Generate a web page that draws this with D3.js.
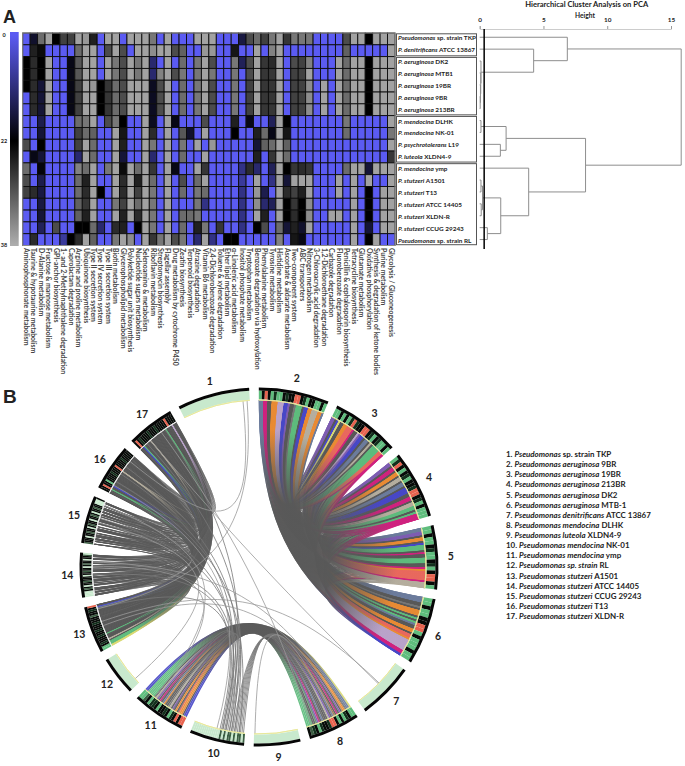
<!DOCTYPE html>
<html>
<head>
<meta charset="utf-8">
<style>
  body { margin: 0; background: white; }
  text { font-family: Lato, "Open Sans", sans-serif; fill: #222; }
</style>
<script src="https://d3js.org/d3.v7.min.js"></script>
</head>
<body>
<div id="chart"></div>
<script>
// ---- panel A data
var columnLabels = ["Aminophosphonate metabolism","Taurine & hypotaurine metabolism","D-Alanine metabolism","Fructose & mannose metabolism","GPI-anchor biosynthesis","1- and 2-Methylnaphthalene degradation","Caprolactam degradation","Arginine and proline metabolism","Ubiquinone biosynthesis","Type II secretion system","Type IV secretion system","Type III secretion system","Biotin metabolism","Glycerophospholipid metabolism","Polyketide sugar unit biosynthesis","Nucleotide sugars metabolism","Selenoamino & metabolism","Riboflavin metabolism","Streptomycin biosynthesis","Flagellar assembly","Drug metabolism by cytochrome P450","Zeatin biosynthesis","Terpenoid biosynthesis","Atrazine degradation","Vitamin B6 metabolism","2,4-Dichlorobenzoate degradation","Toluene & xylene degradation","Ether lipid metabolism","α-Linolenic acid metabolism","Inositol phosphate metabolism","Tryptophan metabolism","Benzoate degradation via hydroxylation","Phenylalanine metabolism","Tyrosine metabolism","Histidine metabolism","Ascorbate & aldarate metabolism","Two-component system","ABC transporters","Nitrogen metabolism","3-Chloroacrylic acid degradation","1,2-Dichloroethane degradation","Carbazole degradation","Fluorobenzoate degradation","Penicillin & cephalosporin biosynthesis","Tetracycline biosynthesis","Glutamate metabolism","Oxidative phosphorylation","Synthesis & degradation of ketone bodies","Purine metabolism","Glycolysis / Gluconeogenesis"];

var rowItalic = ["Pseudomonas","P. denitrificans","P. aeruginosa","P. aeruginosa","P. aeruginosa","P. aeruginosa","P. aeruginosa","P. mendocina","P. mendocina","P. psychrotolerans","P. luteola","P. mendocina","P. stutzeri","P. stutzeri","P. stutzeri","P. stutzeri","P. stutzeri","Pseudomonas"];
var rowPlain = ["sp. strain TKP","ATCC 13867","DK2","MTB1","19BR","9BR","213BR","DLHK","NK-01","L19","XLDN4-9","ymp","A1501","T13","ATCC 14405","XLDN-R","CCUG 29243","sp. strain RL"];

var heatValues = [
  [0,18,32,37,22,28,28,37,36,25, 0,37,37,0,37,37,37,33,0,37, 0,0,0,37,37,37,0,0,0,16, 29,32,28,33,37,27,33,33,33,0, 0,0,0,29,37,37,22,37,37,37],
  [0,25,23,0,0,0,0,32,37,37, 0,29,37,29,0,37,37,35,37,37, 29,31,0,0,36,36,0,0,24,0, 0,37,0,34,37,0,0,0,0,0, 0,0,0,31,0,0,0,0,0,37],
  [22,26,22,37,0,0,20,30,37,37, 0,37,33,29,37,33,37,12,0,37, 0,32,0,33,37,29,0,0,33,14, 29,37,27,26,37,0,29,28,34,0, 0,0,37,32,37,37,22,37,37,37],
  [22,26,22,37,0,0,20,30,37,37, 0,37,33,29,37,33,37,12,34,37, 29,33,0,33,37,33,0,0,33,0, 29,37,27,27,37,0,28,28,37,0, 0,0,37,32,37,37,22,37,37,37],
  [22,26,17,37,0,0,20,28,37,36, 22,27,32,29,37,37,37,19,29,37, 0,32,0,33,37,29,0,0,33,0, 28,37,27,27,37,0,28,28,35,0, 37,0,37,32,37,37,22,37,37,37],
  [0,26,17,37,0,0,20,28,37,37, 22,27,32,29,37,37,37,19,29,37, 0,32,0,33,37,29,0,0,33,0, 28,37,27,27,37,0,28,28,35,0, 37,0,37,32,37,37,22,37,37,37],
  [0,26,17,37,0,0,20,28,37,37, 22,27,32,29,37,37,37,19,29,37, 0,32,0,33,37,29,0,0,33,0, 28,37,27,27,37,0,28,28,35,0, 37,0,37,32,37,37,22,37,37,37],
  [0,0,15,0,0,0,0,32,33,37, 0,29,33,22,0,0,37,19,0,37, 20,0,0,0,29,0,0,0,25,0, 20,0,0,14,37,22,0,0,0,0, 0,0,0,33,0,0,0,0,0,37],
  [0,0,17,0,0,0,0,28,32,31, 0,0,37,24,0,0,37,26,0,37, 0,30,18,0,37,0,0,0,22,0, 0,25,32,20,37,24,0,0,0,0, 0,0,0,32,0,0,0,0,0,33],
  [29,0,22,0,0,0,0,28,37,32, 0,0,37,25,0,0,37,33,0,37, 0,33,0,37,0,36,0,0,0,0, 0,17,31,32,37,31,0,0,0,0, 0,0,0,0,0,0,0,0,0,37],
  [0,20,17,0,0,0,0,12,37,32, 0,0,37,17,0,0,37,12,0,37, 0,32,0,0,37,0,0,0,0,0, 0,25,0,27,37,32,0,0,0,0, 0,0,0,0,0,0,0,0,0,27],
  [32,0,21,0,0,0,0,34,32,37, 0,33,37,23,37,32,37,27,0,37, 20,0,0,37,27,0,0,0,0,10, 26,12,0,14,37,22,27,26,27,0, 0,0,0,32,37,37,17,37,37,37],
  [29,0,15,0,0,0,0,32,25,37, 0,0,37,26,37,25,37,32,0,37, 0,29,0,32,37,0,0,0,0,8, 0,37,0,10,37,17,37,37,37,0, 0,0,37,0,37,0,37,0,0,37],
  [28,26,16,0,0,0,0,32,26,37, 22,0,37,26,37,28,37,33,0,37, 0,32,0,33,32,0,0,0,0,10, 0,36,15,0,37,26,28,25,37,0, 0,0,37,0,37,0,22,0,37,37],
  [0,0,16,0,0,0,0,31,27,37, 0,0,33,28,37,32,37,33,0,37, 0,0,0,33,10,0,0,0,0,10, 0,35,12,14,37,22,27,22,35,0, 0,0,0,0,37,0,22,0,37,37],
  [0,0,17,0,0,0,0,31,25,37, 0,0,37,25,37,26,37,33,0,37, 0,32,32,33,0,0,0,0,0,10, 0,37,25,0,37,22,26,22,35,0, 0,37,37,0,37,0,22,0,37,37],
  [0,0,14,0,29,0,0,22,22,32, 12,0,26,25,0,22,37,33,0,37, 0,32,0,25,33,0,27,0,0,10, 0,22,29,0,32,17,25,18,37,0, 0,0,0,0,37,0,17,0,37,37],
  [0,26,0,0,0,8,22,26,37,31, 0,0,33,37,35,0,37,27,33,37, 29,33,0,12,37,10,0,22,22,0, 0,0,0,0,34,0,24,20,0,0, 0,0,0,0,37,0,22,37,0,0]
];

var scaleStops = [0, 22, 38];
var rowGroups = [[0,1],[2,6],[7,10],[11,17]];

// [height, left, right], plain numbers are rows of the heatmap
var clusterTree = [15.8,
  [6.87, 0, [4.23, 1, [0.1, 2, [0.08, 3, [0.06, 4, [0.04, 5, 6]]]]]],
  [8.3,
    [2.07, [0.1, 7, 8], [1.62, 9, 10]],
    [3.84, 11, [1.65, [0.22, [0.1, 12, 13], [0.12, 14, 15]], [0.6, 16, 17]]]]];
var heightTicks = [0, 5, 10, 15];
var cutHeight = 0.35;

// ---- panel B data
var legendItalic = ["Pseudomonas","Pseudomonas aeruginosa","Pseudomonas aeruginosa","Pseudomonas aeruginosa","Pseudomonas aeruginosa","Pseudomonas aeruginosa","Pseudomonas denitrificans","Pseudomonas mendocina","Pseudomonas luteola","Pseudomonas mendocina","Pseudomonas mendocina","Pseudomonas sp. strain","Pseudomonas stutzeri","Pseudomonas stutzeri","Pseudomonas stutzeri","Pseudomonas stutzeri","Pseudomonas stutzeri"];
var legendPlain = ["sp. strain TKP","9BR","19BR","213BR","DK2","MTB-1","ATCC 13867","DLHK","XLDN4-9","NK-01","ymp","RL","A1501","ATCC 14405","CCUG 29243","T13","XLDN-R"];

var sectorSpans = [23.4,22.8,22.2,22.1,20.8,21.7,18.3,16.8,15.1,17.8,17.2,12.6,15.2,14.5,15.5,15.2,15.6];

// blocks of the gene track per sector, clockwise
var trackBlocks = {
  1:"p", 2:"nkskndnnkdkksskdnkknnkn", 3:"nnknkndsdkksskdnkdnnkn", 4:"ndsknkdnkkdsskdnknnn", 5:"nnknnkdnnkdnksskn", 6:"nnknnkkssnknnnknn",
  7:"p", 8:"nnkdnknkssdkkdnkdxk", 9:"p", 10:"xpxxpxpxxpxpxpppppppppppppp", 11:"sskskdnkdkknkddnkxnn", 12:"p",
  13:"nnkdkkkdkkdkkkdkkkxkkdks", 14:"ppppkxkpkkxkkkpkkxkkpkxkkpkkxp", 15:"xkkkpkkxkkpkxkkpkkxkpkkxkkpppk",
  16:"kkskknkkkkdkkkskkkkdkkkkk", 17:"kskdkkkkdkkkdkkkkkskkkk"
};

// gene strips per sector, clockwise; same index = same gene family within a group
var ribbonGroups = [
  { flipped: [2], strips: {
    2:"iimmggooolllbbpgghnnngbbootttooi",
    3:"ppgbyggoosssmgglpbbgiigtgnnnnssm",
    4:"ppgmmgoogttgiigbbbggmmgttnngnmmm",
    5:"iippgoogbnnngmggnnnggmosssssmttt",
    6:"iiigghgooogngniggoogssollllllmmb" } },
  { flipped: [13], strips: {
    13:"yynnnnggtgggggngggggggggggggggggggggggggggggibgg",
    14:"ggwggwgggwwggwgwgggwggwggwwgggwgwggwgggwwggwgggw",
    15:"gwwgwggwgggwgwwgggwgwwggwgggwwgwggwggwgggwgwwggw",
    16:"ggggngggbggggggggggggggggggtgggggggggggggggggggg",
    17:"ggggbnggggggggtgggggggggggggggggggnggggggglggggg" } },
  { flipped: [11], strips: {
    8:"yiigoogpgmgoigptgggigmpnggnnnn",
    11:"bbgoosgogpgthggoigmgptgnnnnnbb" } }
];

// single thin links: sector, position, sector, position
var thinLinks = [
  [10,.03,8,.86],[10,.06,8,.78],[10,.09,8,.7],[10,.12,8,.62],[10,.15,8,.55],[10,.18,8,.46],[10,.21,8,.38],[10,.24,8,.3],
  [10,.27,11,.2],[10,.30,11,.3],[10,.11,16,.3],[10,.2,17,.2],[10,.26,16,.7],[10,.31,15,.6],[10,.34,17,.7],[10,.37,14,.8],[10,.40,15,.9],
  [10,.43,16,.5],[10,.46,13,.9],[10,.49,14,.5],[10,.38,11,.5],[10,.44,11,.6],
  [9,.98,8,.4],[1,.96,13,.9],[7,.5,17,.3],[7,.48,13,.6],[12,.15,15,.5],[13,.5,8,.2],[14,.8,8,.12],[17,.6,8,.9],[16,.2,10,.55],[11,.7,14,.7],[11,.75,15,.9],[1,.9,16,.85]
];

var colorCodes = ["g","h","m","o","l","b","p","n","t","s","y","i"];
var colorValues = ["#585858","#767676","#cf217e","#e88a33","#b9a2c9","#4747c6","#7d5cb2","#5dbb7c","#b4ad9d","#e8685d","#d9d972","#6b7b9c"];
var blockCodes = ["k","n","s","d","x","p"];
var blockValues = ["#070b08","#5fbd7d","#e8634f","#12301c","#3c5f43","#c8e9cd"];

// ---- page
var svg = d3.select("#chart").append("svg").attr("width", 685).attr("height", 766);
var rad = function(a) { return a * Math.PI / 180; };

svg.append("text").attr("x", 3).attr("y", 23).style("font", "bold 18px 'Liberation Sans'").text("A");
svg.append("text").attr("x", 3).attr("y", 403).style("font", "bold 19px 'Liberation Sans'").text("B");

// heatmap
var x = d3.scaleBand().domain(d3.range(columnLabels.length)).range([22.7, 395]);
var y = d3.scaleBand().domain(d3.range(rowPlain.length)).range([33, 245.5]);
var heatColor = d3.scaleLinear().domain(scaleStops).range(["#5b5bf2", "#000000", "#adadad"]);

var rowsG = svg.append("g");
rowsG.selectAll("g").data(heatValues).enter().append("g")
  .attr("transform", function(d, i) { return "translate(0," + y(i) + ")"; })
  .selectAll("rect").data(function(d) { return d; }).enter().append("rect")
    .attr("x", function(d, j) { return x(j); })
    .attr("width", x.bandwidth())
    .attr("height", y.bandwidth())
    .attr("fill", function(d) { return heatColor(d); })
    .attr("stroke", "#0c0c0c")
    .attr("stroke-width", 0.9);
svg.append("rect").attr("x", 22.7).attr("y", 33).attr("width", 372.3).attr("height", 212.5)
  .attr("fill", "none").attr("stroke", "#8a8a8a");

svg.append("g").selectAll("text").data(columnLabels).enter().append("text")
  .attr("transform", function(d, j) { return "translate(" + (x(j) + x.bandwidth() / 2) + ",248) rotate(90)"; })
  .attr("dy", "0.35em")
  .style("font-size", "6.9px").style("font-weight", 700).style("fill", "#444")
  .text(function(d) { return d; });

// colour key
var keyY = d3.scaleLinear().domain(scaleStops).range([35, 141, 245]);
var grad = svg.append("defs").append("linearGradient").attr("id", "keyGrad")
  .attr("gradientUnits", "userSpaceOnUse").attr("x1", 0).attr("x2", 0).attr("y1", 33).attr("y2", 246);
grad.selectAll("stop").data(scaleStops).enter().append("stop")
  .attr("offset", function(d) { return (keyY(d) - 33) / 213; })
  .attr("stop-color", function(d) { return heatColor(d); });
svg.append("rect").attr("x", 10).attr("y", 32).attr("width", 8.7).attr("height", 214).attr("fill", "url(#keyGrad)");
svg.append("g").selectAll("text").data(scaleStops).enter().append("text")
  .attr("x", 4).attr("y", function(d) { return keyY(d) + 2; })
  .attr("text-anchor", "middle")
  .style("font-size", "5.5px").style("font-weight", 700)
  .text(function(d) { return d; });

// row labels and their boxes
var labelY = d3.scaleBand().domain(d3.range(rowPlain.length)).range([32.3, 246.5]);
var rowText = svg.append("g").selectAll("text").data(rowPlain).enter().append("text")
  .attr("x", 398).attr("y", function(d, i) { return labelY(i) + labelY.bandwidth() / 2 + 2; })
  .style("font-size", "6.4px").style("font-weight", 700);
rowText.append("tspan").style("font-style", "italic").text(function(d, i) { return rowItalic[i]; });
rowText.append("tspan").text(function(d) { return " " + d; });

svg.append("g").selectAll("rect").data(rowGroups).enter().append("rect")
  .attr("x", 396.5).attr("width", 80)
  .attr("y", function(d) { return y(d[0]) + 0.8; })
  .attr("height", function(d) { return y(d[1]) + y.bandwidth() - y(d[0]) - 1.6; })
  .attr("fill", "none").attr("stroke", "#555");

// dendrogram
var heightX = d3.scaleLinear().domain([0, 15]).range([479.7, 671]);
var axisG = svg.append("g").attr("transform", "translate(0,29)")
  .call(d3.axisTop(heightX).tickValues(heightTicks).tickSize(3));
axisG.select(".domain").attr("stroke", "#ccc");
axisG.selectAll("line").attr("stroke", "#999");
axisG.selectAll("text").style("font-size", "6.4px").style("font-weight", 700).style("font-family", "Lato").attr("dy", "-0.1em");
svg.append("text").attr("x", 586.7).attr("y", 6.5).attr("text-anchor", "middle")
  .style("font-size", "7.6px").style("font-weight", 700).text("Hierarchical Cluster Analysis on PCA");
svg.append("text").attr("x", 585).attr("y", 17.5).attr("text-anchor", "middle")
  .style("font-size", "6.6px").style("font-weight", 700).text("Height");

var tree = d3.hierarchy(clusterTree, function(d) { return Array.isArray(d) ? d.slice(1) : null; });
tree.eachAfter(function(n) {
  if (n.children) {
    n.py = d3.mean(n.children, function(c) { return c.py; });
    n.px = heightX(n.data[0]);
  } else {
    n.py = labelY(n.data) + labelY.bandwidth() / 2 - 1;
    n.px = heightX(0);
  }
});
svg.append("g").selectAll("path")
  .data(tree.descendants().filter(function(n) { return n.children; }))
  .enter().append("path")
    .attr("fill", "none").attr("stroke", "#8e8e8e").attr("stroke-width", 1)
    .attr("d", function(n) {
      var a = n.children[0], b = n.children[1];
      return "M" + a.px + "," + a.py + "H" + n.px + "V" + b.py + "H" + b.px;
    });
svg.append("line").attr("x1", heightX(cutHeight)).attr("x2", heightX(cutHeight))
  .attr("y1", 29).attr("y2", 249).attr("stroke", "#000").attr("stroke-width", 1.5);

// ---- chord panel
var cx = 259, cy = 567;
var ribbonR = 167, trackR = 176.5, outerR = 179.5, controlR = 40;
var panel = svg.append("g").attr("transform", "translate(" + cx + "," + cy + ")");
var stripColor = d3.scaleOrdinal(colorCodes, colorValues);
var blockColor = d3.scaleOrdinal(blockCodes, blockValues);

var pad = rad(3.1);
var sectors = d3.pie().sort(null).value(function(d) { return d; })
  .startAngle(rad(-28.15)).endAngle(rad(331.85)).padAngle(pad)(sectorSpans)
  .map(function(s, i) {
    return { id: i + 1, startAngle: s.startAngle + pad / 2, endAngle: s.endAngle - pad / 2 };
  });
var sectorAt = function(id, t) {
  var s = sectors[id - 1];
  return d3.scaleLinear().domain([0, 1]).range([s.startAngle, s.endAngle])(t);
};
var pt = function(a, r) { return [r * Math.sin(a), -r * Math.cos(a)]; };

function ribbonPath(a0, a1, b0, b1) {
  var p = d3.path();
  var s = pt(a0, ribbonR);
  p.moveTo(s[0], s[1]);
  p.arc(0, 0, ribbonR, a0 - Math.PI / 2, a1 - Math.PI / 2);
  var c1 = pt(a1, controlR), c2 = pt(b0, controlR), e = pt(b0, ribbonR);
  p.bezierCurveTo(c1[0], c1[1], c2[0], c2[1], e[0], e[1]);
  p.arc(0, 0, ribbonR, b0 - Math.PI / 2, b1 - Math.PI / 2);
  c1 = pt(b1, controlR); c2 = pt(a0, controlR);
  p.bezierCurveTo(c1[0], c1[1], c2[0], c2[1], s[0], s[1]);
  p.closePath();
  return p.toString();
}

// build the ribbons of every group
var ribbons = [];
ribbonGroups.forEach(function(group, g) {
  var ids = Object.keys(group.strips).map(Number);
  var slot = function(id, k) {
    var str = group.strips[id], n = str.length;
    var idx = group.flipped.indexOf(id) >= 0 ? n - 1 - k : k;
    return { code: str[idx], a0: sectorAt(id, idx / n), a1: sectorAt(id, (idx + 1) / n) };
  };
  ids.forEach(function(ida, i) {
    ids.slice(i + 1).forEach(function(idb) {
      var n = Math.min(group.strips[ida].length, group.strips[idb].length);
      d3.range(n).forEach(function(k) {
        var sa = slot(ida, k), sb = slot(idb, k);
        if (sa.code === "w" || sb.code === "w") return;
        var tinted = (sa.code === "g" ? 0 : 1) + (sb.code === "g" ? 0 : 1);
        // the dense group mixes gene by gene, the others keep the colours on top
        ribbons.push({ a: sa, b: sb, group: g, rank: g === 0 ? k : tinted, tinted: tinted });
      });
    });
  });
});
ribbons.sort(function(p, q) { return p.group - q.group || p.rank - q.rank; });

var defs = svg.select("defs");
ribbons.forEach(function(r, i) {
  r.d = ribbonPath(r.a.a0, r.a.a1, r.b.a0, r.b.a1);
  if (!r.tinted) { r.fill = stripColor("g"); return; }
  var p0 = pt((r.a.a0 + r.a.a1) / 2, ribbonR), p1 = pt((r.b.a0 + r.b.a1) / 2, ribbonR);
  var g = defs.append("linearGradient").attr("id", "rb" + i).attr("gradientUnits", "userSpaceOnUse")
    .attr("x1", p0[0]).attr("y1", p0[1]).attr("x2", p1[0]).attr("y2", p1[1]);
  [[0, r.a.code], [0.24, r.a.code], [0.42, "g"], [0.58, "g"], [0.76, r.b.code], [1, r.b.code]].forEach(function(s) {
    g.append("stop").attr("offset", s[0]).attr("stop-color", stripColor(s[1]));
  });
  r.fill = "url(#rb" + i + ")";
});

panel.append("g").selectAll("path").data(ribbons).enter().append("path")
  .attr("d", function(r) { return r.d; })
  .attr("fill", function(r) { return r.fill; })
  .attr("fill-opacity", 0.92);

// the bundles close to the centre read as plain grey
var hubFade = [
  [[60, 0.95], [100, 0.55], [138, 0]],
  [[60, 0.9], [110, 0.5], [140, 0]],
  [[70, 0.95], [112, 0.3], [135, 0]]
];
hubFade.forEach(function(stops, g) {
  var fade = defs.append("radialGradient").attr("id", "hub" + g).attr("gradientUnits", "userSpaceOnUse")
    .attr("cx", 0).attr("cy", 0).attr("r", ribbonR);
  stops.forEach(function(s) {
    fade.append("stop").attr("offset", s[0] / ribbonR).attr("stop-color", stripColor("g")).attr("stop-opacity", s[1]);
  });
  panel.append("path")
    .attr("d", ribbons.filter(function(r) { return r.group === g; }).map(function(r) { return r.d; }).join(""))
    .attr("fill", "url(#hub" + g + ")");
});

// thin links
panel.append("g").selectAll("path").data(thinLinks).enter().append("path")
  .attr("fill", "none").attr("stroke-width", 0.8)
  .attr("stroke", function(d) { return d[0] === 10 ? "#777" : "#999"; })
  .attr("d", function(d) {
    var a = sectorAt(d[0], d[1]), b = sectorAt(d[2], d[3]);
    var p = d3.path(), s = pt(a, ribbonR), c1 = pt(a, controlR), c2 = pt(b, controlR), e = pt(b, ribbonR);
    p.moveTo(s[0], s[1]);
    p.bezierCurveTo(c1[0], c1[1], c2[0], c2[1], e[0], e[1]);
    return p.toString();
  });

// gene track and outer band
var blockArc = d3.arc().innerRadius(ribbonR + 0.5).outerRadius(trackR);
var bandArc = d3.arc().innerRadius(trackR).outerRadius(outerR);
var sectorG = panel.append("g").selectAll("g").data(sectors).enter().append("g");
sectorG.each(function(s) {
  var blocks = trackBlocks[s.id];
  d3.select(this).selectAll("path").data(d3.range(blocks.length)).enter().append("path")
    .attr("fill", function(i) { return blockColor(blocks[i]); })
    .attr("d", function(i) {
      return blockArc({ startAngle: sectorAt(s.id, i / blocks.length), endAngle: sectorAt(s.id, (i + 1) / blocks.length) });
    });
});
sectorG.append("path").attr("fill", "#060606").attr("d", bandArc);
sectorG.append("path").attr("fill", "none").attr("stroke-width", 0.9)
  .attr("stroke", function(s) { return s.id < 13 ? "#e8e89a" : "#eee"; })
  .attr("d", d3.arc().innerRadius(ribbonR).outerRadius(ribbonR).startAngle(function(s) { return s.startAngle; }).endAngle(function(s) { return s.endAngle; }));

var labelArc = d3.arc().innerRadius(192).outerRadius(192);
panel.append("g").selectAll("text").data(sectors).enter().append("text")
  .attr("x", function(s) { return labelArc.centroid(s)[0]; })
  .attr("y", function(s) { return labelArc.centroid(s)[1] + 3.5; })
  .attr("text-anchor", "middle")
  .style("font-size", "10.5px").style("font-weight", 700)
  .text(function(s) { return s.id; });

// legend
var legendY = d3.scaleLinear().domain([0, 16]).range([457, 619]);
var legend = svg.append("g").selectAll("text").data(legendPlain).enter().append("text")
  .attr("x", 506).attr("y", function(d, i) { return legendY(i); })
  .style("font-size", "7.95px").style("font-weight", 700);
legend.append("tspan").text(function(d, i) { return (i + 1) + ". "; });
legend.append("tspan").style("font-style", "italic").text(function(d, i) { return legendItalic[i]; });
legend.append("tspan").text(function(d) { return " " + d; });
</script>
</body>
</html>
